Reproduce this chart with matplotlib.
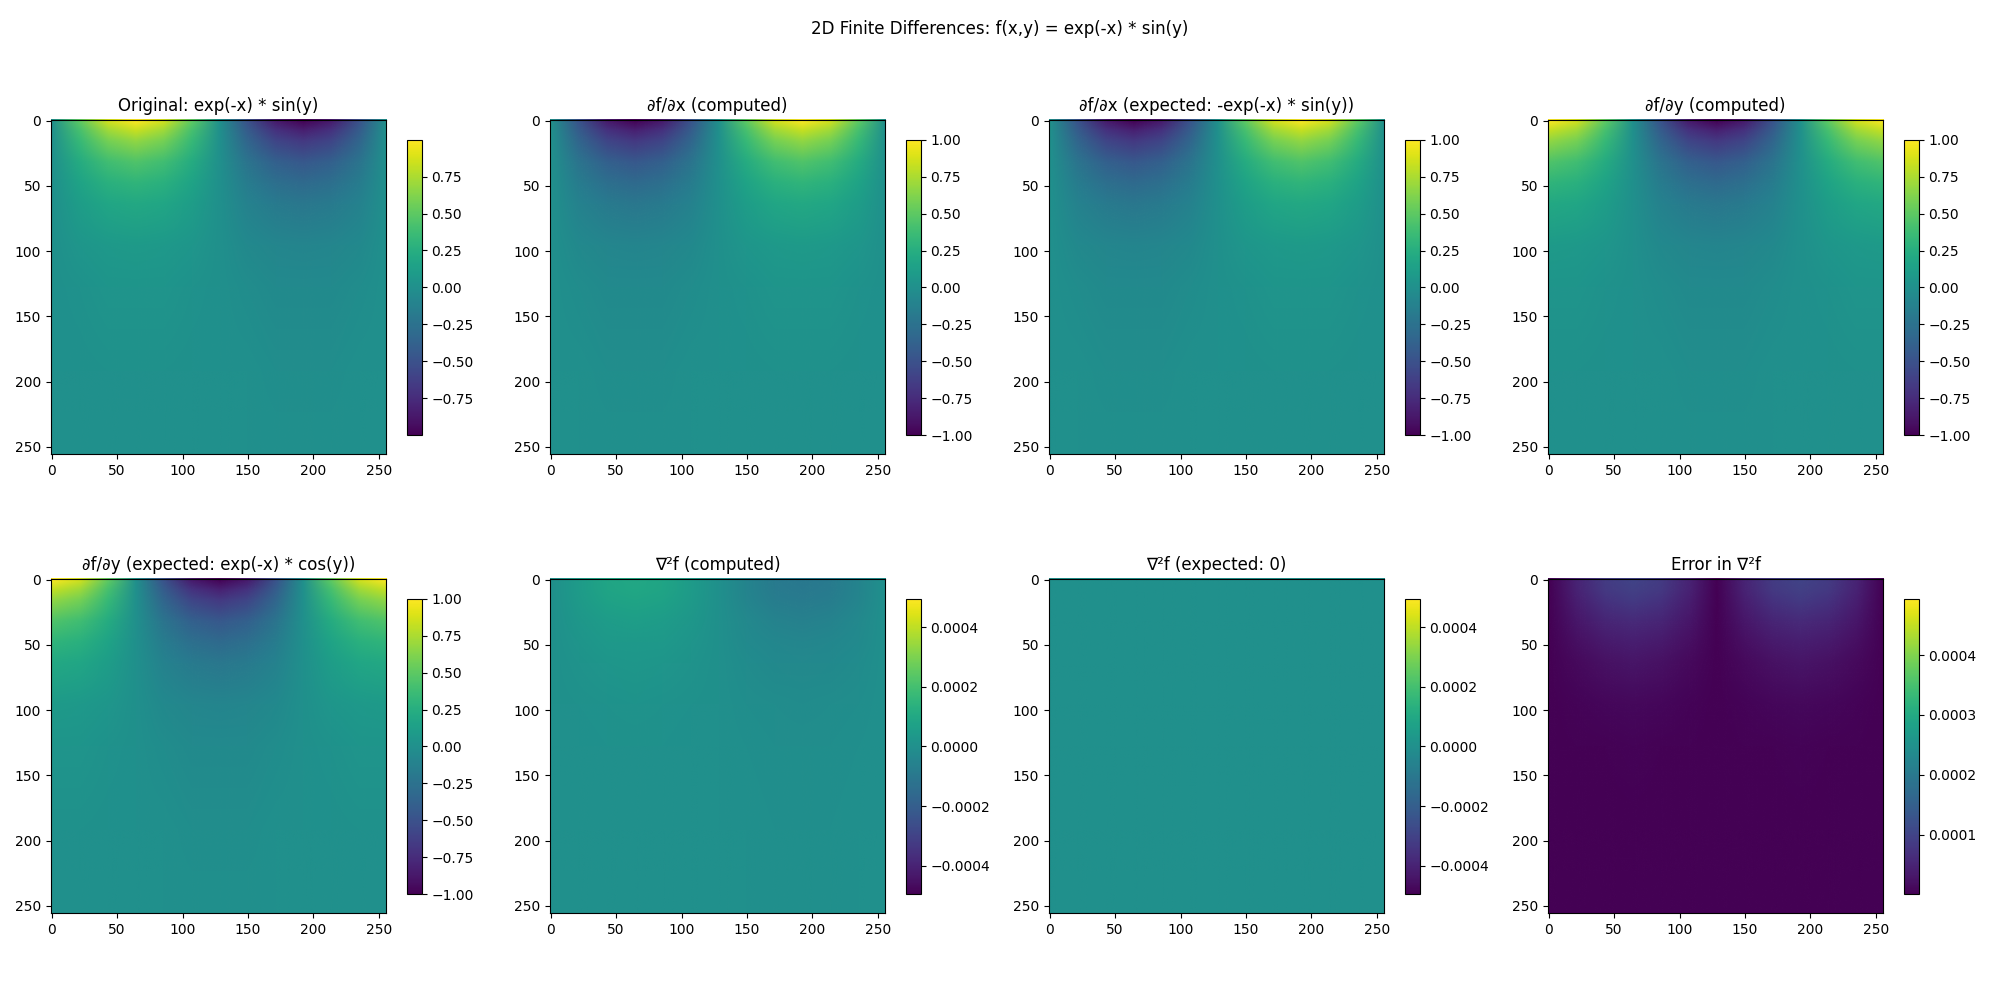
import numpy as np
import matplotlib
matplotlib.use('Agg')
import matplotlib.pyplot as plt
from matplotlib.image import NonUniformImage

# sample positions of the value tables below (image pixels)
cols = [0, 21, 43, 64, 85, 107, 128, 149, 171, 192, 213, 235, 255]
rows = [0, 8, 16, 32, 48, 64, 96, 128, 192, 255]

# values estimated from the colours in the picture
original = [
    [0, .50, .87, .999, .87, .50, 0, -.50, -.87, -.999, -.87, -.50, 0],
    [0, .41, .71, .82, .71, .41, 0, -.41, -.71, -.82, -.71, -.41, 0],
    [0, .34, .58, .67, .58, .34, 0, -.34, -.58, -.67, -.58, -.34, 0],
    [0, .23, .39, .45, .39, .23, 0, -.23, -.39, -.45, -.39, -.23, 0],
    [0, .16, .27, .31, .27, .16, 0, -.16, -.27, -.31, -.27, -.16, 0],
    [0, .11, .18, .21, .18, .11, 0, -.11, -.18, -.21, -.18, -.11, 0],
    [0, .05, .08, .09, .08, .05, 0, -.05, -.08, -.09, -.08, -.05, 0],
    [0, .02, .04, .04, .04, .02, 0, -.02, -.04, -.04, -.04, -.02, 0],
    [0, 0, .01, .01, .01, 0, 0, 0, -.01, -.01, -.01, 0, 0],
    [0, 0, 0, 0, 0, 0, 0, 0, 0, 0, 0, 0, 0],
]
dfdx = [
    [0, -.50, -.87, -1.0, -.87, -.50, 0, .50, .87, 1.0, .87, .50, 0],
    [0, -.41, -.71, -.82, -.71, -.41, 0, .41, .71, .82, .71, .41, 0],
    [0, -.34, -.58, -.67, -.58, -.34, 0, .34, .58, .67, .58, .34, 0],
    [0, -.23, -.39, -.45, -.39, -.23, 0, .23, .39, .45, .39, .23, 0],
    [0, -.16, -.27, -.31, -.27, -.16, 0, .16, .27, .31, .27, .16, 0],
    [0, -.11, -.18, -.21, -.18, -.11, 0, .11, .18, .21, .18, .11, 0],
    [0, -.05, -.08, -.09, -.08, -.05, 0, .05, .08, .09, .08, .05, 0],
    [0, -.02, -.04, -.04, -.04, -.02, 0, .02, .04, .04, .04, .02, 0],
    [0, 0, -.01, -.01, -.01, 0, 0, 0, .01, .01, .01, 0, 0],
    [0, 0, 0, 0, 0, 0, 0, 0, 0, 0, 0, 0, 0],
]
dfdy = [
    [1.0, .87, .50, 0, -.50, -.87, -1.0, -.87, -.50, 0, .50, .87, 1.0],
    [.82, .71, .41, 0, -.41, -.71, -.82, -.71, -.41, 0, .41, .71, .82],
    [.67, .58, .34, 0, -.34, -.58, -.67, -.58, -.34, 0, .34, .58, .67],
    [.45, .39, .23, 0, -.23, -.39, -.45, -.39, -.23, 0, .23, .39, .45],
    [.31, .27, .16, 0, -.16, -.27, -.31, -.27, -.16, 0, .16, .27, .31],
    [.21, .18, .11, 0, -.11, -.18, -.21, -.18, -.11, 0, .11, .18, .21],
    [.09, .08, .05, 0, -.05, -.08, -.09, -.08, -.05, 0, .05, .08, .09],
    [.04, .04, .02, 0, -.02, -.04, -.04, -.04, -.02, 0, .02, .04, .04],
    [.01, .01, 0, 0, 0, -.01, -.01, -.01, 0, 0, 0, .01, .01],
    [0, 0, 0, 0, 0, 0, 0, 0, 0, 0, 0, 0, 0],
]
# the two small tables are in units of 1e-4
laplacian_e4 = [
    [0, .50, .87, 1.0, .87, .50, 0, -.50, -.87, -1.0, -.87, -.50, 0],
    [0, .48, .83, .95, .83, .48, 0, -.48, -.83, -.95, -.83, -.48, 0],
    [0, .43, .74, .85, .74, .43, 0, -.43, -.74, -.85, -.74, -.43, 0],
    [0, .30, .52, .60, .52, .30, 0, -.30, -.52, -.60, -.52, -.30, 0],
    [0, .21, .37, .42, .37, .21, 0, -.21, -.37, -.42, -.37, -.21, 0],
    [0, .14, .24, .28, .24, .14, 0, -.14, -.24, -.28, -.24, -.14, 0],
    [0, .06, .10, .12, .10, .06, 0, -.06, -.10, -.12, -.10, -.06, 0],
    [0, .03, .04, .05, .04, .03, 0, -.03, -.04, -.05, -.04, -.03, 0],
    [0, 0, .01, .01, .01, 0, 0, 0, -.01, -.01, -.01, 0, 0],
    [0, 0, 0, 0, 0, 0, 0, 0, 0, 0, 0, 0, 0],
]
error_e4 = [
    [0, .50, .87, 1.0, .87, .50, 0, .50, .87, 1.0, .87, .50, 0],
    [0, .48, .83, .95, .83, .48, 0, .48, .83, .95, .83, .48, 0],
    [0, .43, .74, .85, .74, .43, 0, .43, .74, .85, .74, .43, 0],
    [0, .30, .52, .60, .52, .30, 0, .30, .52, .60, .52, .30, 0],
    [0, .21, .37, .42, .37, .21, 0, .21, .37, .42, .37, .21, 0],
    [0, .14, .24, .28, .24, .14, 0, .14, .24, .28, .24, .14, 0],
    [0, .06, .10, .12, .10, .06, 0, .06, .10, .12, .10, .06, 0],
    [0, .03, .04, .05, .04, .03, 0, .03, .04, .05, .04, .03, 0],
    [0, 0, .01, .01, .01, 0, 0, 0, .01, .01, .01, 0, 0],
    [0, 0, 0, 0, 0, 0, 0, 0, 0, 0, 0, 0, 0],
]
laplacian = np.array(laplacian_e4) * 1e-4
error = np.array(error_e4) * 1e-4
zeros = np.zeros_like(laplacian)

titles = [
    "Original: exp(-x) * sin(y)",
    "∂f/∂x (computed)",
    "∂f/∂x (expected: -exp(-x) * sin(y))",
    "∂f/∂y (computed)",
    "∂f/∂y (expected: exp(-x) * cos(y))",
    "∇²f (computed)",
    "∇²f (expected: 0)",
    "Error in ∇²f",
]
panels = [original, dfdx, dfdx, dfdy, dfdy, laplacian, zeros, error]
# colour limits
vmins = [-0.999, -1.0, -1.0, -1.0, -1.0, -0.000495, -0.000495, 0.000001]
vmaxs = [0.999, 1.0, 1.0, 1.0, 1.0, 0.000495, 0.000495, 0.000494]

W, H = 2000, 1000
# whole pixels for the axes box, NonUniformImage leaves a gap otherwise
lefts = [51, 550, 1049, 1548]
bottoms = [454, 913]

fig = plt.figure(figsize=(20, 10), dpi=100)
fig.suptitle("2D Finite Differences: f(x,y) = exp(-x) * sin(y)", y=0.98)

for i in range(8):
    left = lefts[i % 4]
    bottom = bottoms[i // 4]
    ax = fig.add_axes([left / W, 1 - bottom / H, 335 / W, 334 / H])
    im = NonUniformImage(ax, interpolation='bilinear', cmap='viridis')
    im.set_data(cols, rows, np.array(panels[i], dtype=float))
    im.set_clim(vmins[i], vmaxs[i])
    ax.add_image(im)
    ax.set_xlim(-0.5, 255.5)
    ax.set_ylim(255.5, -0.5)
    ax.set_xticks([0, 50, 100, 150, 200, 250])
    ax.set_yticks([0, 50, 100, 150, 200, 250])
    ax.set_title(titles[i], pad=6.7)

    cax = fig.add_axes([(left + 356.3) / W, 1 - (bottom - 18.8) / H, 14.6 / W, 295.5 / H])
    fig.colorbar(im, cax=cax)

fig.savefig("out.png", dpi=100)
plt.close(fig)
